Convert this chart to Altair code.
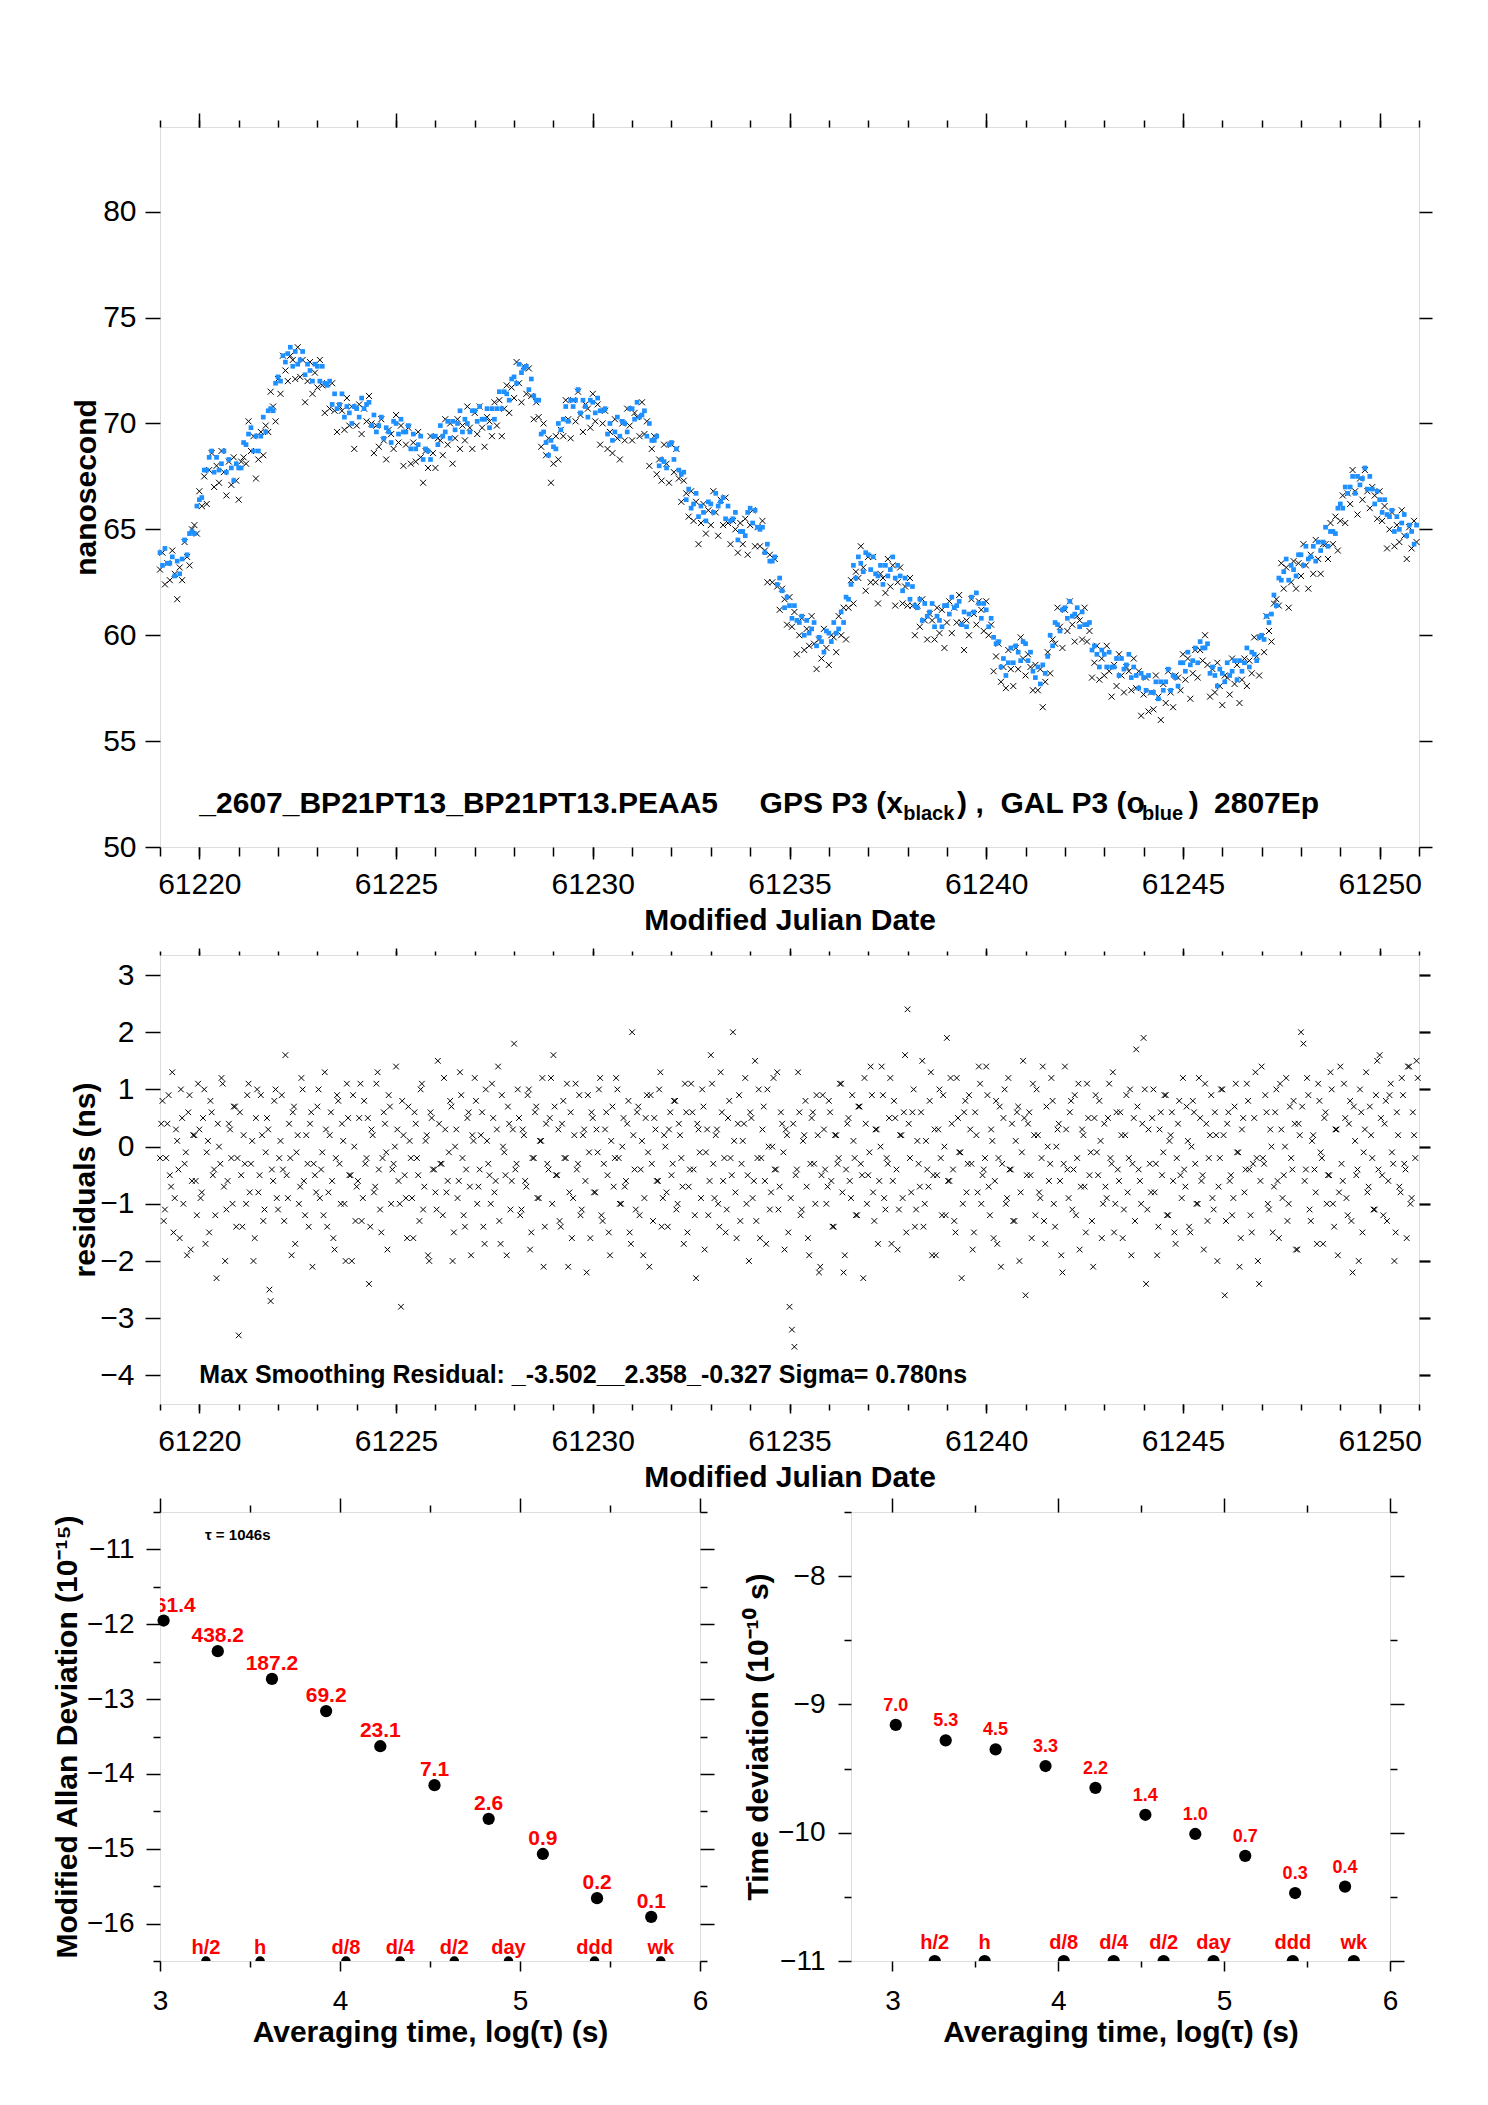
import altair as alt
import pandas as pd

FONT = "Liberation Sans"
BLUE = "#1E90FF"
RED = "#FF0000"
X_SHAPE = "M-1,-1L1,1M-1,1L1,-1"

# ---------------- panel 1 / 2 data (one epoch every 1.5 h) ----------------
MJD_START = 61219.0
MJD_STEP = 0.0625

gps_ns = [
 63.1,63.9,62.4,63.4, 62.6,64.0,62.9,61.7, 63.2,62.6,64.4,63.7, 63.3,65.0,65.2,64.8,
 66.8,66.1,67.5,66.2, 67.8,68.6,67.0,68.0, 67.2,68.7,67.7,66.6, 68.2,67.1,68.4,67.3,
 66.4,68.2,68.4,68.1, 70.1,68.7,69.4,67.4, 68.3,69.6,68.5,69.9, 69.6,71.5,70.8,70.1,
 72.1,71.4,73.2,72.5, 72.0,73.2,73.0,72.1, 73.6,72.2,73.0,71.0, 72.0,72.9,71.4,72.4,
 71.7,73.0,71.8,70.5, 71.9,70.7,71.9,70.6, 69.6,70.8,70.6,69.7, 71.2,69.9,70.8,68.8,
 69.9,70.9,69.5,70.7, 70.1,71.3,70.0,68.6, 69.9,68.9,70.2,69.2, 68.3,69.7,69.5,68.8,
 70.4,69.1,69.9,68.0, 69.0,69.8,68.1,69.1, 68.2,69.6,68.4,67.2, 68.7,67.9,69.4,68.6,
 67.9,69.3,69.2,68.5, 70.2,69.0,70.0,68.1, 69.3,70.2,68.8,69.9, 69.2,70.8,69.8,68.8,
 70.5,69.5,70.8,69.8, 68.9,70.3,70.1,69.4, 71.0,69.9,71.1,69.4, 70.7,71.8,70.5,71.7,
 71.2,72.9,71.9,71.0, 72.7,71.4,72.6,71.3, 70.2,71.0,70.3,68.9, 70.0,68.5,69.3,67.2,
 68.1,69.4,68.3,69.7, 69.4,71.1,70.2,69.3, 71.1,70.1,71.5,70.4, 69.6,70.9,70.7,69.8,
 71.4,70.1,70.9,69.0, 70.0,70.6,68.8,69.6, 68.6,70.2,69.3,68.3, 70.0,69.2,70.7,69.9,
 69.2,70.5,70.3,69.4, 71.0,69.5,70.1,68.0, 68.8,69.4,67.6,68.3, 67.3,69.0,68.1,67.2,
 69.0,67.7,68.8,67.4, 66.3,67.3,66.7,65.6, 66.8,65.4,66.3,64.3, 65.3,66.2,64.8,65.9,
 65.2,66.8,65.8,64.7, 66.4,65.2,66.5,65.3, 64.3,65.4,65.0,63.9, 65.3,64.3,65.5,63.8,
 65.2,65.9,64.2,65.1, 64.2,65.4,64.0,62.5, 63.8,62.5,63.6,62.3, 61.2,62.2,61.7,60.5,
 61.8,60.4,61.1,59.1, 60.0,60.8,59.3,60.3, 59.5,60.9,59.6,58.4, 59.8,58.9,60.3,59.4,
 58.6,60.0,59.9,59.2, 60.9,60.0,61.3,59.8, 61.3,62.6,61.5,63.0, 62.7,64.2,63.2,62.1,
 63.7,62.5,63.7,62.5, 61.5,62.9,62.7,62.0, 63.6,62.3,63.3,61.4, 62.5,63.2,61.5,62.3,
 61.4,62.7,61.4,60.0, 61.4,60.4,61.7,60.7, 59.8,61.0,60.7,59.8, 61.3,60.1,61.2,59.4,
 60.6,61.6,60.1,61.3, 60.6,61.9,60.6,59.3, 60.7,60.0,61.7,61.0, 60.5,61.6,61.2,60.2,
 61.6,60.0,60.5,58.3, 59.0,59.6,57.8,58.5, 57.5,59.3,58.4,57.6, 59.4,58.4,59.9,58.9,
 58.1,59.1,58.5,57.4, 58.6,57.4,58.4,56.6, 57.8,59.2,58.2,59.8, 59.6,61.3,60.4,59.4,
 61.2,60.2,61.6,60.5, 59.7,60.9,60.7,59.8, 61.3,59.7,60.2,58.0, 58.7,59.5,57.9,58.9,
 58.1,59.5,58.3,57.1, 58.6,57.6,59.1,58.1, 57.3,58.5,58.3,57.4, 58.9,57.5,58.3,56.2,
 57.2,58.0,56.4,57.3, 56.5,58.1,57.1,56.0, 57.7,56.8,58.3,57.3, 56.6,58.1,58.0,57.4,
 59.1,57.9,58.9,57.0, 58.2,59.3,58.0,59.3, 58.8,60.0,58.6,57.1, 58.4,57.3,58.7,57.6,
 56.7,58.1,58.0,57.2, 58.9,57.7,58.6,56.8, 57.9,58.9,57.6,58.8, 58.2,59.9,59.0,58.1,
 59.9,59.2,60.9,60.2, 59.7,61.5,61.7,61.4, 63.4,62.2,63.2,61.3, 62.5,63.5,62.2,63.4,
 62.8,64.3,63.3,62.2, 63.8,62.9,64.5,63.6, 62.9,64.3,64.3,63.6, 65.3,64.3,65.6,64.0,
 65.4,66.6,65.3,66.7, 66.2,67.8,66.8,65.7, 67.4,66.4,67.8,66.8, 66.0,67.0,66.6,65.5,
 66.8,65.4,66.1,64.1, 65.0,65.8,64.2,65.2, 64.4,65.9,64.7,63.6, 65.1,64.1,65.4,64.4,
]

gal_ns = [
 63.9,63.3,64.1,63.4, 63.4,63.7,62.8,63.5, 62.9,63.6,64.5,63.8, 64.8,64.9,64.8,66.1,
 66.4,66.5,67.8,67.8, 68.4,68.7,67.7,68.4, 67.8,68.1,68.7,67.7, 68.3,67.9,67.3,68.1,
 67.9,67.9,69.1,69.0, 69.5,69.8,68.7,69.4, 68.7,69.4,70.3,69.6, 70.6,70.7,70.6,71.9,
 72.2,72.0,73.2,72.9, 73.3,73.6,72.7,73.4, 72.8,73.0,73.4,72.3, 72.8,72.5,72.0,72.8,
 72.7,72.0,72.7,71.9, 71.8,72.0,70.9,71.4, 70.7,70.9,71.4,70.3, 70.8,70.5,70.0,70.8,
 70.7,70.3,71.2,70.7, 70.9,71.0,69.9,70.4, 69.6,69.9,70.3,69.3, 69.8,69.6,69.1,70.1,
 70.0,69.5,70.2,69.6, 69.6,69.9,68.8,69.5, 68.8,69.0,69.4,68.3, 68.8,68.7,68.3,69.4,
 69.4,69.0,69.9,69.4, 69.6,70.1,69.3,70.1, 69.7,70.0,70.6,69.6, 70.2,70.0,69.6,70.6,
 70.6,70.1,70.8,70.2, 70.2,70.7,69.8,70.7, 70.2,70.7,71.5,70.7, 71.5,71.4,71.1,72.1,
 72.2,71.9,72.8,72.4, 72.6,72.7,71.6,72.1, 71.3,71.1,71.1,69.5, 69.6,69.1,68.5,69.2,
 68.9,68.8,70.0,69.7, 70.2,70.8,70.1,71.1, 70.8,71.1,71.6,70.5, 71.1,70.8,70.3,71.1,
 71.0,70.5,71.2,70.6, 70.6,70.7,69.5,70.0, 69.2,69.6,70.3,69.4, 70.1,70.0,69.6,70.7,
 70.7,70.2,71.0,70.3, 70.4,70.6,69.4,70.0, 69.2,69.2,69.4,68.0, 68.3,68.2,67.9,69.0,
 69.1,68.3,68.8,67.8, 67.6,67.7,66.4,66.9, 66.0,66.2,66.7,65.6, 66.1,65.8,65.4,66.3,
 66.2,65.8,66.7,66.1, 66.3,66.5,65.5,66.1, 65.4,65.5,65.8,64.5, 64.9,64.9,64.7,65.8,
 66.0,65.3,65.9,65.1, 65.0,65.1,63.9,64.3, 63.5,63.5,63.7,62.4, 62.7,62.1,61.3,61.8,
 61.4,60.8,61.4,60.7, 60.6,60.9,60.0,60.7, 60.1,60.3,60.6,59.5, 59.9,59.7,59.2,60.2,
 60.1,59.7,60.6,60.1, 60.3,61.1,60.6,61.8, 61.7,62.4,63.3,62.7, 63.7,63.4,63.0,63.9,
 63.8,63.1,63.7,62.9, 62.8,63.3,62.4,63.3, 62.8,63.1,63.7,62.7, 63.3,62.8,62.1,62.7,
 62.4,61.7,62.3,61.4, 61.3,61.7,60.7,61.5, 60.9,61.1,61.5,60.4, 60.9,60.7,60.4,61.4,
 61.4,61.0,61.8,61.3, 61.4,61.6,60.5,61.1, 60.4,61.0,61.8,61.1, 62.0,61.5,60.8,61.5,
 61.2,60.4,60.8,59.9, 59.6,59.7,58.5,58.9, 58.1,58.7,59.4,58.7, 59.5,59.2,58.8,59.7,
 59.6,58.8,59.2,58.3, 58.0,58.5,57.7,58.6, 58.2,59.0,60.0,59.5, 60.6,60.5,60.2,61.2,
 61.3,60.8,61.6,60.9, 61.0,61.3,60.4,61.1, 60.5,60.5,60.6,59.3, 59.5,59.1,58.5,59.3,
 59.1,58.5,59.2,58.5, 58.5,58.9,58.1,58.9, 58.4,58.6,59.1,58.0, 58.5,58.1,57.5,58.2,
 58.0,57.4,58.1,57.3, 57.3,57.8,57.0,57.8, 57.4,57.8,58.4,57.4, 58.1,58.0,57.6,58.7,
 58.7,58.3,59.2,58.6, 58.8,59.4,58.7,59.7, 59.4,59.4,59.6,58.2, 58.5,58.1,57.6,58.4,
 58.2,57.8,58.7,58.1, 58.3,58.8,57.9,58.8, 58.3,58.7,59.4,58.5, 59.2,59.1,58.8,59.9,
 60.0,59.8,60.9,60.6, 61.0,61.9,61.4,62.7, 62.6,63.0,63.6,62.6, 63.3,63.1,62.8,63.8,
 63.8,63.3,64.2,63.6, 63.7,64.2,63.5,64.4, 64.0,64.4,65.1,64.2, 64.9,64.9,64.8,66.0,
 66.2,66.0,67.0,66.7, 67.0,67.5,66.7,67.5, 67.1,67.4,67.9,66.9, 67.5,66.9,66.2,66.8,
 66.4,65.8,66.4,65.7, 65.6,65.9,64.9,65.6, 65.0,65.3,65.7,64.7, 65.2,64.9,64.3,65.2,
]

# residuals at the same epochs as gps_ns
resid_a = [
 -0.2,0.8,-1.1,0.4,-0.5,1.3,-0.9,0.1,-1.6,0.5,-0.3,-1.9,0.9,-0.6,0.2,-1.2,
 0.3,-0.8,1.0,-0.1,-1.5,0.6,-0.4,-2.3,0.0,1.2,-0.7,-1.1,0.4,-0.2,0.7,-1.4,
 -3.3,-0.5,0.2,-1.0,1.1,-0.3,-2.0,0.5,-0.8,0.9,-1.3,-0.1,0.3,-2.7,-0.6,1.0,
 -1.1,0.1,-0.4,1.6,-0.9,-0.2,0.6,-1.7,0.2,-0.7,1.0,-1.2,-0.3,0.4,-2.1,-0.5,
 0.7,-0.9,-0.1,1.3,-1.4,0.2,-0.6,-1.8,0.9,-0.3,0.4,-1.0,1.1,-0.5,-2.0,0.0,
 -0.7,0.5,-1.3,0.8,-0.2,-2.4,0.3,-0.8,1.1,-0.4,-1.5,0.6,-0.1,0.9,-1.0,-0.3,
 1.4,-0.6,-2.8,0.2,-0.9,0.7,-0.2,-1.6,0.4,-0.5,1.0,-1.1,0.1,-1.9,0.6,-0.4,
 -0.8,1.5,-0.3,-1.2,0.3,-0.6,0.8,-2.0,0.0,-0.9,1.3,-0.2,-1.4,0.5,-0.7,0.2,
 1.2,-1.0,-0.4,0.6,-1.7,0.1,-0.5,1.1,-0.8,0.3,-1.3,0.9,-0.1,-1.9,0.4,-0.6,
 1.8,-0.3,0.5,-1.1,0.2,-0.7,1.0,-1.5,-0.2,0.7,-0.9,0.1,-2.1,0.4,-0.4,1.2,
 1.6,-0.5,0.3,-1.4,0.8,-0.2,-2.1,0.6,-0.9,1.1,-0.3,-1.2,0.2,-0.6,0.9,-1.6,
 0.5,-0.8,-0.1,1.2,-1.3,0.3,-0.5,-1.9,0.7,-0.2,1.0,-1.0,0.0,-0.7,0.4,-1.5,
 2.0,-0.4,0.6,-1.2,0.1,-0.9,0.9,-2.1,-0.3,0.5,-0.6,1.0,-1.4,0.2,-0.8,0.3,
 -0.5,0.8,-1.1,0.4,-0.2,-1.7,0.6,-0.7,1.1,-0.4,-2.3,0.3,-0.9,0.7,-0.1,-1.2,
 1.6,-0.3,0.2,-1.0,1.3,-0.6,-1.5,0.5,-0.2,2.0,-0.8,0.4,-1.3,0.1,1.2,-0.5,
 0.6,-0.9,1.5,-0.2,-1.6,0.3,-0.6,1.0,-1.1,0.0,-0.4,1.3,-0.7,0.4,-1.8,0.2,
 -2.8,-3.2,-3.5,-0.4,0.6,-1.1,0.2,-0.7,-1.9,0.5,-0.3,0.9,-2.2,-0.5,0.3,-1.0,
 0.8,-0.6,-1.4,0.2,-0.2,1.1,-2.2,-0.4,0.5,-0.9,0.1,-1.2,0.7,-0.3,-2.3,0.4,
 -0.5,1.4,-0.8,0.3,-1.7,0.0,0.9,-1.1,-0.3,1.2,-0.6,0.5,-1.8,0.2,-0.9,1.6,
 2.4,-0.2,0.6,-1.4,0.1,-0.7,1.5,-1.0,-0.4,0.8,-1.9,0.3,-0.5,1.0,-1.2,0.0,
 1.9,-0.6,0.4,-1.3,1.2,-0.1,-2.3,0.6,-0.8,0.9,-0.3,-1.5,0.2,1.4,-1.0,-0.4,
 1.4,-0.7,0.3,-1.6,0.8,-0.2,-2.1,0.5,-1.0,1.2,-0.4,-1.3,0.1,0.7,-0.8,1.5,
 -2.6,0.4,-0.5,1.1,-1.2,0.2,-0.9,1.4,-1.7,0.0,-0.3,0.8,-1.4,0.3,-0.6,-2.2,
 1.4,-0.4,0.6,-1.1,0.9,-0.2,-1.8,0.3,-0.7,1.1,-0.5,-1.3,0.5,-0.1,0.8,-1.6,
 0.4,-0.9,1.1,-0.3,-1.5,0.6,-0.6,0.2,-1.1,0.9,-0.2,-1.9,0.5,1.7,-0.4,-1.0,
 1.9,-2.4,0.3,-0.8,1.0,-0.3,-1.4,0.6,-0.1,0.9,-1.2,0.2,-0.6,-1.7,0.4,-0.5,
 1.2,-0.7,0.1,-1.5,0.8,-0.3,-1.0,0.5,-0.5,1.1,-1.3,0.2,-0.9,0.6,-2.0,-0.2,
 1.0,-2.6,0.4,-0.6,-1.2,0.7,-0.1,-2.1,0.3,-0.8,1.1,-0.4,-1.5,0.5,-0.2,-2.4,
 1.4,-0.3,0.6,-1.1,0.0,-0.7,1.0,-1.6,0.3,-0.5,1.2,-1.0,-0.2,0.8,-1.8,0.4,
 2.0,1.8,-0.4,0.9,-1.3,0.2,-0.8,1.1,-0.1,-1.7,0.6,-0.5,1.3,-1.0,0.3,-1.9,
 1.4,-0.6,0.5,-1.2,0.8,-2.2,0.1,-0.4,1.0,-1.5,0.3,-0.8,0.7,-0.2,-1.1,1.5,
 1.6,-0.5,0.4,-1.3,0.9,-0.1,-2.0,0.6,-0.7,1.2,-0.3,-1.6,1.4,-0.9,0.2,1.5,
]

# residuals at the intermediate epochs (half a step later)
resid_b = [
 0.4,-1.3,-0.2,0.9,-0.7,-1.5,0.3,-0.4,1.0,-1.0,-0.1,0.6,-1.8,0.2,-0.6,1.1,
 -0.9,0.5,-1.7,0.1,0.8,-0.5,-1.2,0.4,-0.3,1.1,-2.0,-0.6,0.3,-1.0,0.7,-0.2,
 0.6,-1.4,-0.3,0.9,-0.8,0.1,-1.6,1.0,-0.5,0.2,-1.1,0.5,-2.5,-0.4,0.8,-0.9,
 -0.2,0.9,-1.3,-0.5,0.4,-1.9,0.7,-0.1,-1.0,1.2,-0.6,0.2,-1.4,0.6,-0.3,-0.8,
 1.0,-0.4,-1.2,0.3,-0.8,0.6,-1.6,-0.2,0.8,-1.0,0.1,-2.0,0.5,-0.5,0.9,-1.3,
 -0.6,1.1,-0.9,-0.3,0.5,-1.4,0.2,-0.7,1.3,-1.1,-0.2,0.4,-1.8,0.7,-0.4,0.0,
 0.3,-1.0,0.8,-0.5,-1.6,0.1,-0.9,0.6,-0.2,-1.3,1.1,-0.7,0.2,-2.0,0.5,-0.4,
 -1.1,0.4,-0.3,1.2,-0.8,-0.1,0.7,-1.5,0.3,-0.6,0.9,-1.2,-0.4,0.6,-1.9,0.1,
 0.8,-0.7,0.2,-1.4,1.0,-0.3,-1.0,0.5,-0.6,1.4,-1.7,0.0,-0.5,0.7,-1.1,0.3,
 -0.4,1.0,-1.2,0.3,-0.6,0.9,-1.8,-0.2,0.6,-0.9,0.1,1.2,-1.4,-0.3,0.5,-1.0,
 0.7,-0.5,-1.3,0.4,-0.2,1.1,-0.8,-1.6,0.2,-0.4,0.9,-1.1,0.3,-2.2,-0.1,0.6,
 -0.8,0.3,1.0,-1.2,-0.3,0.6,-1.5,0.1,-0.7,1.2,-0.2,-1.0,0.5,-0.6,0.8,-1.7,
 0.2,-1.1,0.7,-0.4,-1.9,0.5,-0.1,0.9,-1.3,0.3,-0.6,1.3,-0.9,0.0,-1.4,0.6,
 -0.3,0.8,-1.0,0.2,-0.7,1.1,-1.5,-0.4,0.6,-1.2,0.4,-0.1,1.0,-1.8,0.3,-0.6,
 1.1,-0.9,0.3,-1.4,0.6,-0.2,-1.1,0.8,-0.5,0.1,-1.6,0.9,-0.3,0.4,-1.0,-2.0,
 0.5,-0.6,-1.3,1.0,-0.2,0.7,-1.7,0.0,-0.8,1.2,-0.4,-1.1,0.6,-0.1,0.3,-1.5,
 -0.9,0.4,-0.5,1.3,-1.2,0.1,0.8,-1.6,-0.3,0.6,-1.0,0.2,-2.1,0.9,-0.4,-0.7,
 0.6,-1.4,0.2,-0.3,1.1,-0.8,-1.9,0.4,-0.6,0.9,-0.2,-1.2,0.7,-0.5,1.2,-1.0,
 -0.1,0.9,-1.3,0.3,-0.6,1.4,-0.9,-0.2,0.5,-1.7,0.8,-0.4,-1.1,0.2,0.6,-1.5,
 0.4,-0.8,1.0,-1.1,-0.3,0.6,-1.4,0.1,-0.7,1.3,-0.5,-1.9,0.3,-0.2,0.9,-1.2,
 -0.6,1.2,-0.4,-1.5,0.5,-0.1,-1.0,0.8,-0.3,0.3,-1.8,0.6,-0.8,1.1,-0.5,-0.2,
 0.9,-1.2,0.1,-0.6,-1.7,0.7,-0.3,1.0,-0.9,-0.4,0.4,-1.3,0.6,-2.0,-0.1,0.5,
 -0.5,0.6,-1.6,0.2,1.0,-0.8,-0.2,-1.3,0.7,-0.6,1.2,-1.0,0.0,0.4,-1.9,-0.3,
 0.3,-0.9,0.8,-0.4,-1.2,1.1,-0.7,0.2,-1.5,0.5,-0.1,-2.1,0.9,-0.5,0.1,-1.0,
 -0.7,0.5,-0.2,1.3,-1.0,-0.4,0.6,-1.6,0.2,-0.8,1.0,-0.3,-1.3,0.7,-0.6,0.4,
 1.0,-1.1,-0.3,0.5,-0.8,-1.9,0.3,-0.5,0.9,-1.2,0.1,0.6,-1.5,-0.2,0.8,-0.9,
 -0.4,0.7,-1.4,0.0,0.6,-1.0,1.2,-0.6,-1.8,0.4,-0.2,0.9,-1.1,0.2,-0.7,1.0,
 0.2,-1.3,0.6,-0.5,-0.9,1.1,-0.1,-1.6,0.5,-0.4,0.8,-1.2,-0.3,1.3,-2.0,-0.6,
 -0.2,0.9,-1.0,0.3,-1.5,0.6,-0.6,1.1,-0.9,0.0,-1.3,0.7,-0.4,0.4,-1.8,0.2,
 0.7,-0.6,1.2,-1.1,0.1,-0.4,-1.7,0.8,-0.2,0.5,-1.0,-0.5,1.0,-1.4,0.3,-0.8,
 -0.3,1.1,-0.9,0.4,-1.3,0.7,-0.5,-2.0,0.6,-0.1,1.3,-0.7,0.2,-1.1,0.9,-0.4,
 0.5,-1.2,0.8,-0.6,1.1,-0.3,-1.5,0.2,-0.8,0.9,-0.4,1.4,-1.0,0.6,-0.2,1.2,
]

mjd = [MJD_START + MJD_STEP * i for i in range(len(gps_ns))]
mjd_half = [MJD_START + MJD_STEP * (i + 0.5) for i in range(len(resid_b))]
series_df = pd.DataFrame({"mjd": mjd, "gps": gps_ns, "gal": gal_ns})
resid_df = pd.DataFrame({"mjd": mjd + mjd_half, "resid": resid_a + resid_b})

MJD_MAJOR = [61220, 61225, 61230, 61235, 61240, 61245, 61250]
MJD_MINOR = list(range(61219, 61252))
TOP_Y_TICKS = [50, 55, 60, 65, 70, 75, 80]
RES_Y_TICKS = [-4, -3, -2, -1, 0, 1, 2, 3]

top_note_text = ["_2607_BP21PT13_BP21PT13.PEAA5", "GPS P3 (x", ") ,", "GAL P3 (o", ")", "2807Ep"]
top_note_x = [61220.0, 61234.24, 61239.26, 61240.36, 61245.15, 61245.79]
top_sub_text = ["black", "blue"]
top_sub_x = [61237.89, 61243.96]
mid_note = "Max Smoothing Residual: _-3.502__2.358_-0.327  Sigma= 0.780ns"

# ---------------- panel 3 / 4 data ----------------
log_tau = [3.020, 3.321, 3.622, 3.923, 4.224, 4.525, 4.826, 5.127, 5.428, 5.729]
mdev_log = [-11.95, -12.36, -12.73, -13.16, -13.63, -14.15, -14.60, -15.07, -15.66, -15.91]
mdev_lab = ["1061.4", "438.2", "187.2", "69.2", "23.1", "7.1", "2.6", "0.9", "0.2", "0.1"]
tdev_log = [-9.16, -9.28, -9.35, -9.48, -9.65, -9.86, -10.01, -10.18, -10.47, -10.42]
tdev_lab = ["7.0", "5.3", "4.5", "3.3", "2.2", "1.4", "1.0", "0.7", "0.3", "0.4"]
mark_log = [3.255, 3.556, 4.033, 4.334, 4.635, 4.936, 5.414, 5.782]
mark_lab = ["h/2", "h", "d/8", "d/4", "d/2", "day", "ddd", "wk"]


# ---------------- helpers ----------------
def tick_axis(orient, values, size, width=1.5):
    return alt.Axis(orient=orient, values=values, tickSize=size, tickWidth=width,
                    tickColor="black", labels=False, domain=False, grid=False, title="")


def label_axis(orient, values, size, lab_size, lab_pad, title, title_x=None, title_y=None):
    kw = dict(orient=orient, values=values, tickSize=size, tickWidth=1.5, tickColor="black",
              domain=False, grid=False, labels=True, labelFont=FONT, labelFontSize=lab_size,
              labelColor="black", labelPadding=lab_pad, labelFlush=False, labelOverlap=False,
              format="d", title=title, titleFont=FONT, titleFontSize=30,
              titleFontWeight="bold", titleColor="black", titleBaseline="alphabetic")
    if title_x is not None:
        kw["titleX"] = title_x
    if title_y is not None:
        kw["titleY"] = title_y
    return alt.Axis(**kw)


def ghost(df, xf, yf, xs, ys, xaxis, yaxis):
    return alt.Chart(df).mark_point(opacity=0).encode(
        x=alt.X(xf, scale=xs, axis=xaxis), y=alt.Y(yf, scale=ys, axis=yaxis))


# ---------------- top panel ----------------
xs_mjd = alt.Scale(domain=[61219, 61251], nice=False, zero=False)
ys_top = alt.Scale(domain=[50, 84], nice=False, zero=False)
ghost_top = pd.DataFrame({"mjd": [61230.0], "v": [60.0]})

top_gps = alt.Chart(series_df).mark_point(
    shape=X_SHAPE, filled=False, color="black", size=36, strokeWidth=1, opacity=1
).encode(
    x=alt.X("mjd:Q", scale=xs_mjd,
            axis=label_axis("bottom", MJD_MAJOR, 12, 30, 10, "Modified Julian Date", title_y=82)),
    y=alt.Y("gps:Q", scale=ys_top,
            axis=label_axis("left", TOP_Y_TICKS, 15, 30, 9, "nanosecond", title_x=-65)),
)
top_gal = alt.Chart(series_df).mark_square(size=22, color=BLUE, opacity=1).encode(
    x=alt.X("mjd:Q", scale=xs_mjd, axis=tick_axis("bottom", MJD_MINOR, 9)),
    y=alt.Y("gal:Q", scale=ys_top, axis=tick_axis("right", TOP_Y_TICKS, 13)),
)
top_g1 = ghost(ghost_top, "mjd:Q", "v:Q", xs_mjd, ys_top, tick_axis("top", MJD_MAJOR, 14), None)
top_g2 = ghost(ghost_top, "mjd:Q", "v:Q", xs_mjd, ys_top, tick_axis("top", MJD_MINOR, 7), None)

note_df = pd.DataFrame({"x": top_note_x, "y": [51.6] * len(top_note_x), "t": top_note_text})
sub_df = pd.DataFrame({"x": top_sub_x, "y": [51.28] * len(top_sub_x), "t": top_sub_text})
top_note = alt.Chart(note_df).mark_text(
    align="left", baseline="alphabetic", font=FONT, fontSize=30, fontWeight="bold", color="black"
).encode(x=alt.X("x:Q", scale=xs_mjd, axis=None), y=alt.Y("y:Q", scale=ys_top, axis=None), text="t:N")
top_sub = alt.Chart(sub_df).mark_text(
    align="left", baseline="alphabetic", font=FONT, fontSize=20, fontWeight="bold", color="black"
).encode(x=alt.X("x:Q", scale=xs_mjd, axis=None), y=alt.Y("y:Q", scale=ys_top, axis=None), text="t:N")

top = alt.layer(top_gps, top_gal, top_g1, top_g2, top_note, top_sub).resolve_axis(
    x="independent", y="independent").properties(width=1259, height=720)

# ---------------- residual panel ----------------
ys_res = alt.Scale(domain=[-4.5, 3.35], nice=False, zero=False)
ghost_res = pd.DataFrame({"mjd": [61230.0], "v": [0.0]})

res_pts = alt.Chart(resid_df).mark_point(
    shape=X_SHAPE, filled=False, color="black", size=32, strokeWidth=1, opacity=1
).encode(
    x=alt.X("mjd:Q", scale=xs_mjd,
            axis=label_axis("bottom", MJD_MAJOR, 9, 30, 13, "Modified Julian Date", title_y=82)),
    y=alt.Y("resid:Q", scale=ys_res,
            axis=label_axis("left", RES_Y_TICKS, 15, 30, 11, "residuals (ns)", title_x=-66)),
)
res_g1 = ghost(ghost_res, "mjd:Q", "v:Q", xs_mjd, ys_res,
               tick_axis("bottom", MJD_MINOR, 6), tick_axis("right", RES_Y_TICKS, 11, 2.2))
res_g2 = ghost(ghost_res, "mjd:Q", "v:Q", xs_mjd, ys_res, tick_axis("top", MJD_MAJOR, 7), None)
res_g3 = ghost(ghost_res, "mjd:Q", "v:Q", xs_mjd, ys_res, tick_axis("top", MJD_MINOR, 4), None)
res_note = alt.Chart(pd.DataFrame({"x": [61220.0], "y": [-4.14], "t": [mid_note]})).mark_text(
    align="left", baseline="alphabetic", font=FONT, fontSize=25, fontWeight="bold", color="black"
).encode(x=alt.X("x:Q", scale=xs_mjd, axis=None), y=alt.Y("y:Q", scale=ys_res, axis=None), text="t:N")

mid = alt.layer(res_pts, res_g1, res_g2, res_g3, res_note).resolve_axis(
    x="independent", y="independent").properties(width=1259, height=449)


# ---------------- stability panels ----------------
def stab_panel(xdom, ydom, ymaj, ymin, vals, labs, ytitle, lab_size, lab_dy, mark_size,
               mark_lab_size, mark_dy, left_tick, tau_note):
    xs = alt.Scale(domain=xdom, nice=False, zero=False)
    ys = alt.Scale(domain=ydom, nice=False, zero=False)
    xmaj = [3, 4, 5, 6]
    xmin = [3.5, 4.5, 5.5]
    pts_df = pd.DataFrame({"lt": log_tau, "v": vals, "lab": labs})
    ref_df = pd.DataFrame({"lt": mark_log, "v": [ydom[0]] * len(mark_log), "lab": mark_lab})
    dots = alt.Chart(pts_df).mark_circle(size=150, color="black", opacity=1).encode(
        x=alt.X("lt:Q", scale=xs,
                axis=label_axis("bottom", xmaj, 10, 28, 16, "Averaging time, log(\u03c4) (s)", title_y=80)),
        y=alt.Y("v:Q", scale=ys,
                axis=label_axis("left", ymaj, left_tick, 28, 26 - left_tick, ytitle, title_x=-84)),
    )
    labels = alt.Chart(pts_df).mark_text(
        font=FONT, fontSize=lab_size, fontWeight="bold", color=RED, dy=lab_dy,
        baseline="middle", clip=True
    ).encode(
        x=alt.X("lt:Q", scale=xs, axis=tick_axis("bottom", xmin, 6)),
        y=alt.Y("v:Q", scale=ys, axis=tick_axis("left", ymin, 7)),
        text="lab:N",
    )
    ref_dots = alt.Chart(ref_df).mark_circle(size=mark_size, color="black", opacity=1, clip=True).encode(
        x=alt.X("lt:Q", scale=xs, axis=tick_axis("top", xmaj, 14)),
        y=alt.Y("v:Q", scale=ys, axis=tick_axis("right", ymaj, 14)),
    )
    ref_labels = alt.Chart(ref_df).mark_text(
        font=FONT, fontSize=mark_lab_size, fontWeight="bold", color=RED, dy=mark_dy, baseline="middle"
    ).encode(
        x=alt.X("lt:Q", scale=xs, axis=tick_axis("top", xmin, 7)),
        y=alt.Y("v:Q", scale=ys, axis=tick_axis("right", ymin, 7)),
        text="lab:N",
    )
    layers = [dots, labels, ref_dots, ref_labels]
    if tau_note:
        tau = alt.Chart(pd.DataFrame({"x": [3.25], "y": [-10.81], "t": ["\u03c4 = 1046s"]})).mark_text(
            align="left", baseline="middle", font=FONT, fontSize=15, fontWeight="bold", color="black"
        ).encode(x=alt.X("x:Q", scale=xs, axis=None), y=alt.Y("y:Q", scale=ys, axis=None), text="t:N")
        layers.append(tau)
    return alt.layer(*layers).resolve_axis(x="independent", y="independent")


bl = stab_panel([3, 6], [-16.5, -10.5], [-16, -15, -14, -13, -12, -11],
                [-16.5, -15.5, -14.5, -13.5, -12.5, -11.5, -10.5],
                mdev_log, mdev_lab, "Modified Allan Deviation (10\u207b\u00b9\u2075)",
                21, -15, 90, 20, -13, 14, True).properties(width=540, height=449)
br = stab_panel([2.75, 6], [-11, -7.5], [-11, -10, -9, -8], [-10.5, -9.5, -8.5, -7.5],
                tdev_log, tdev_lab, "Time deviation (10\u207b\u00b9\u2070 s)",
                18, -19, 150, 20, -18, 13, False).properties(width=539, height=449)

row3 = alt.hconcat(bl, br, spacing=151, bounds="flush")

chart = alt.vconcat(top, mid, row3, spacing=108, bounds="flush").properties(
    padding={"left": 43, "top": 103, "right": 20, "bottom": 20}
).configure_view(stroke="black", strokeWidth=1.5).configure(font=FONT, background="white")

chart.save("out.html", embed_options={"renderer": "svg", "actions": False})
